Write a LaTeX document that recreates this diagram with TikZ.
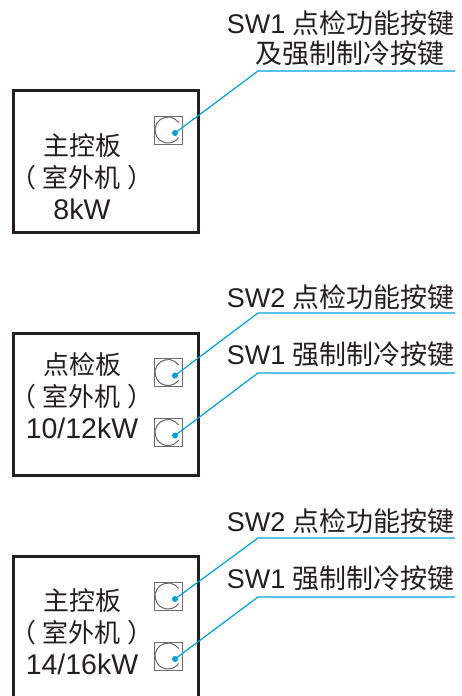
\documentclass[tikz,border=0pt]{standalone}
\usepackage{fontspec}
\setmainfont{Liberation Sans}
\newfontfamily\cjk{Noto Sans CJK SC}
\usetikzlibrary{positioning,calc}
\definecolor{Leader}{RGB}{0,160,222}
\definecolor{Ink}{RGB}{35,31,32}
\definecolor{Key}{RGB}{110,110,110}
\newcommand{\outdoor}{{\cjk （\hspace{7pt}室外机\hspace{7pt}）}}
\newcommand{\rating}[1]{{\fontsize{28.5}{32}\selectfont #1}}

\begin{document}
\begin{tikzpicture}[
    x=1pt, y=-1pt,
    board/.style={draw=Ink, line width=3pt, rectangle, minimum width=185pt, inner sep=0pt},
    boardtext/.style={text=Ink, align=center, inner sep=0pt, font={\fontsize{26}{32}\selectfont}},
    swlabel/.style={text=Ink, anchor=base east, inner sep=0pt, font={\fontsize{27}{32}\selectfont}},
    keybox/.style={draw=Key, line width=1pt, rectangle, minimum size=28pt, inner sep=0pt,
      path picture={\draw[Key!90!black, line width=1pt]
        ([shift={(35:13pt)}]path picture bounding box.center)
        arc[start angle=35, end angle=325, radius=13pt];}},
    leader/.style={draw=Leader, line width=1.2pt},
    dot/.style={fill=Leader}
  ]
  \clip (0,0) rectangle (461,696);

  % 8kW main board
  \node[board, minimum height=142pt] (board1) at (106,161) {};
  \node[boardtext] (name1) at (82,177) {{\cjk 主控板}\\\outdoor\\\rating{8kW}};
  \node[keybox] (k1) at (168,130) {};
  \coordinate (d1) at ($(k1.center)+(7,3)$);
  \node[swlabel] (l1a) at (455,33) {SW1 {\cjk 点检功能按键}};
  \node[swlabel] (l1b) at (445,63) {{\cjk 及强制制冷按键}};
  \coordinate (b1) at (258,71);
  \coordinate (e1) at (455,71);
  \draw[leader] (d1) -- (b1) -- (e1);
  \fill[dot] (d1) circle[radius=3pt];

  % 10/12kW check board
  \node[board, minimum height=142pt] (board2) at (106,404) {};
  \node[boardtext] (name2) at (82,396) {{\cjk 点检板}\\\outdoor\\\rating{10/12kW}};
  \node[keybox] (k2a) at (168,372.5) {};
  \node[keybox] (k2b) at (168,432.5) {};
  \coordinate (d2a) at ($(k2a.center)+(7,3)$);
  \coordinate (d2b) at ($(k2b.center)+(7,3)$);
  \node[swlabel] (l2a) at (455,307) {SW2 {\cjk 点检功能按键}};
  \node[swlabel] (l2b) at (455,364) {SW1 {\cjk 强制制冷按键}};
  \coordinate (b2a) at (258,313);
  \coordinate (e2a) at (455,313);
  \coordinate (b2b) at (258,373);
  \coordinate (e2b) at (455,373);
  \draw[leader] (d2a) -- (b2a) -- (e2a);
  \draw[leader] (d2b) -- (b2b) -- (e2b);
  \fill[dot] (d2a) circle[radius=3pt];
  \fill[dot] (d2b) circle[radius=3pt];

  % 14/16kW main board
  \node[board, minimum height=183pt] (board3) at (106,648) {};
  \node[boardtext] (name3) at (82,632) {{\cjk 主控板}\\\outdoor\\\rating{14/16kW}};
  \node[keybox] (k3a) at (168,596) {};
  \node[keybox] (k3b) at (168,656) {};
  \coordinate (d3a) at ($(k3a.center)+(7,3)$);
  \coordinate (d3b) at ($(k3b.center)+(7,3)$);
  \node[swlabel] (l3a) at (455,531) {SW2 {\cjk 点检功能按键}};
  \node[swlabel] (l3b) at (455,588) {SW1 {\cjk 强制制冷按键}};
  \coordinate (b3a) at (258,538);
  \coordinate (e3a) at (455,538);
  \coordinate (b3b) at (258,597);
  \coordinate (e3b) at (455,597);
  \draw[leader] (d3a) -- (b3a) -- (e3a);
  \draw[leader] (d3b) -- (b3b) -- (e3b);
  \fill[dot] (d3a) circle[radius=3pt];
  \fill[dot] (d3b) circle[radius=3pt];
\end{tikzpicture}
\end{document}
